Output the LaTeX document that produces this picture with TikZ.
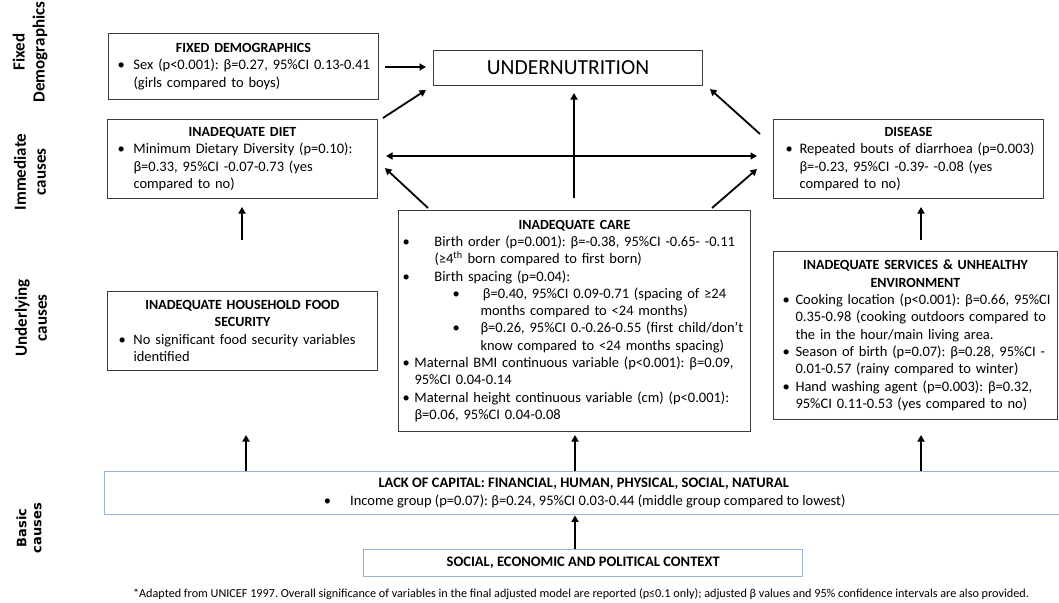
\documentclass[tikz,border=0pt]{standalone}
\usepackage{fontspec}
\setmainfont{Carlito}
\newfontfamily\verd{DejaVu Sans}
\usetikzlibrary{arrows.meta}
\definecolor{bluebd}{RGB}{150,178,212}
\definecolor{boxbd}{RGB}{60,60,60}
\newcommand\ttl[1]{{\centering\fontsize{14}{17.3}\selectfont\bfseries #1\par}}
\newcommand\bl[2][16pt]{\noindent\hbox{\makebox[#1][l]{\textbullet}#2}\par}
\newcommand\cl[2][16pt]{\noindent\hbox{\hspace*{#1}#2}\par}
\newcommand\sbl[1]{\noindent\hbox{\hspace*{50pt}\makebox[28pt][l]{\textbullet}#1}\par}
\newcommand\scl[1]{\noindent\hbox{\hspace*{78pt}#1}\par}
\begin{document}
\frenchspacing
\begin{tikzpicture}[x=1pt,y=-1pt,
  box/.style={draw=boxbd, line width=1pt, anchor=north west, inner xsep=0pt, inner ysep=0pt,
    align=left, font=\fontsize{14.5}{17.3}\selectfont\frenchspacing},
  bbox/.style={draw=bluebd, line width=1.4pt, anchor=north west, inner sep=0pt,
    align=center, font=\fontsize{14.5}{18}\selectfont\frenchspacing},
  arr/.style={line width=1.8pt, -{Triangle[width=7pt,length=6.5pt]}},
  dblarr/.style={line width=1.8pt, {Triangle[width=7pt,length=6.5pt]}-{Triangle[width=7pt,length=6.5pt]}},
  side/.style={rotate=90, align=center, font=\fontsize{17}{20}\selectfont\bfseries},
]
\useasboundingbox (0,0) rectangle (1059,602);

% side labels
\node[side] (sfix) at (30,52) {Fixed\\Demographics};
\node[side] (simm) at (30,172) {Immediate\\causes};
\node[side] (sund) at (31,318) {Underlying\\causes};
\node[side, font=\verd\fontsize{13}{15}\selectfont\bfseries] (sbas) at (29,528) {Basic\\causes};

% boxes
\node[box, minimum width=270pt, minimum height=66pt, text width=252pt] (fixed) at (108,33)
 {\ttl{FIXED DEMOGRAPHICS}
  \bl{Sex (p<0.001): β=0.27, 95\%CI 0.13-0.41}
  \cl{(girls compared to boys)}};

\node[draw=boxbd, line width=1pt, anchor=north west, minimum width=269pt, minimum height=35pt,
  inner sep=0pt, font=\fontsize{21.5}{24}\selectfont] (under) at (433,50) {UNDERNUTRITION};

\node[box, minimum width=270pt, minimum height=79pt, text width=250pt] (diet) at (107,119)
 {\ttl{INADEQUATE DIET}
  \bl{Minimum Dietary Diversity (p=0.10):}
  \cl{β=0.33, 95\%CI -0.07-0.73 (yes}
  \cl{compared to no)}};

\node[box, minimum width=270pt, minimum height=79pt, text width=246pt] (disease) at (773,119)
 {\ttl{DISEASE}
  \bl[14pt]{Repeated bouts of diarrhoea (p=0.003)}
  \cl[14pt]{β=-0.23, 95\%CI -0.39- -0.08 (yes}
  \cl[14pt]{compared to no)}};

\node[box, minimum width=352pt, minimum height=221pt, text width=344pt] (care) at (398,210)
 {\ttl{INADEQUATE CARE}
  \bl[32pt]{Birth order (p=0.001): β=-0.38, 95\%CI -0.65- -0.11}
  \cl[32pt]{(≥4\textsuperscript{th} born compared to first born)}
  \bl[32pt]{Birth spacing (p=0.04):}
  \sbl{\,β=0.40, 95\%CI 0.09-0.71 (spacing of ≥24}
  \scl{months compared to <24 months)}
  \sbl{β=0.26, 95\%CI 0.-0.26-0.55 (first child/don’t}
  \scl{know compared to <24 months spacing)}
  \bl[12pt]{Maternal BMI continuous variable (p<0.001): β=0.09,}
  \cl[12pt]{95\%CI 0.04-0.14}
  \bl[12pt]{Maternal height continuous variable (cm) (p<0.001):}
  \cl[12pt]{β=0.06, 95\%CI 0.04-0.08}};

\node[box, minimum width=270pt, minimum height=79pt, text width=248pt] (food) at (107,291)
 {\ttl{INADEQUATE HOUSEHOLD FOOD\\SECURITY}
  \bl[15pt]{No significant food security variables}
  \cl[15pt]{identified}};

\node[box, minimum width=284pt, minimum height=168pt, text width=266pt] (serv) at (773,251)
 {\ttl{INADEQUATE SERVICES \& UNHEALTHY\\ENVIRONMENT}
  \bl[13pt]{Cooking location (p<0.001): β=0.66, 95\%CI}
  \cl[13pt]{0.35-0.98 (cooking outdoors compared to}
  \cl[13pt]{the in the hour/main living area.}
  \bl[13pt]{Season of birth (p=0.07): β=0.28, 95\%CI -}
  \cl[13pt]{0.01-0.57 (rainy compared to winter)}
  \bl[13pt]{Hand washing agent (p=0.003): β=0.32,}
  \cl[13pt]{95\%CI 0.11-0.53 (yes compared to no)}};

\node[bbox, minimum width=958pt, minimum height=43pt] (capital) at (104,471)
 {\textbf{LACK OF CAPITAL: FINANCIAL, HUMAN, PHYSICAL, SOCIAL, NATURAL}\\
  \hspace*{2pt}\textbullet\hspace{19pt}Income group (p=0.07): β=0.24, 95\%CI 0.03-0.44 (middle group compared to lowest)};

\node[bbox, minimum width=439pt, minimum height=27pt] (context) at (363,549)
 {\textbf{SOCIAL, ECONOMIC AND POLITICAL CONTEXT}};

\node[font=\fontsize{12.2}{14}\selectfont\frenchspacing, inner sep=0pt] (note) at (581,594)
 {*Adapted from UNICEF 1997. Overall significance of variables in the final adjusted model are reported (p≤0.1 only); adjusted β values and 95\% confidence intervals are also provided.};

% connector end points
\coordinate (fixE) at (385,67);
\coordinate (unW) at (426,67);
\coordinate (dietNE) at (383,118);
\coordinate (unSW) at (426,90);
\coordinate (disNW) at (760,134);
\coordinate (unSE) at (710,89);
\coordinate (careN) at (574,198);
\coordinate (unS) at (574,93);
\coordinate (dietE) at (386,156);
\coordinate (disW) at (757,156);
\coordinate (careNW) at (428,208);
\coordinate (dietSE) at (385,168);
\coordinate (careNE) at (712,208);
\coordinate (disSW) at (757,169);
\coordinate (foodup) at (242,240);
\coordinate (dietbot) at (242,207);
\coordinate (servup) at (921,240);
\coordinate (disbot) at (921,207);

\draw[arr] (fixE) -- (unW);
\draw[arr] (dietNE) -- (unSW);
\draw[arr] (disNW) -- (unSE);
\draw[arr] (careN) -- (unS);
\draw[dblarr] (dietE) -- (disW);
\draw[arr] (careNW) -- (dietSE);
\draw[arr] (careNE) -- (disSW);
\draw[arr] (foodup) -- (dietbot);
\draw[arr] (servup) -- (disbot);
\draw[arr] (capital.north -| 246,0) -- ++(0,-36);
\draw[arr] (capital.north -| 575,0) -- ++(0,-36);
\draw[arr] (capital.north -| 921,0) -- ++(0,-36);
\draw[arr] (context.north -| 575,0) -- (capital.south -| 575,0);
\end{tikzpicture}
\end{document}
